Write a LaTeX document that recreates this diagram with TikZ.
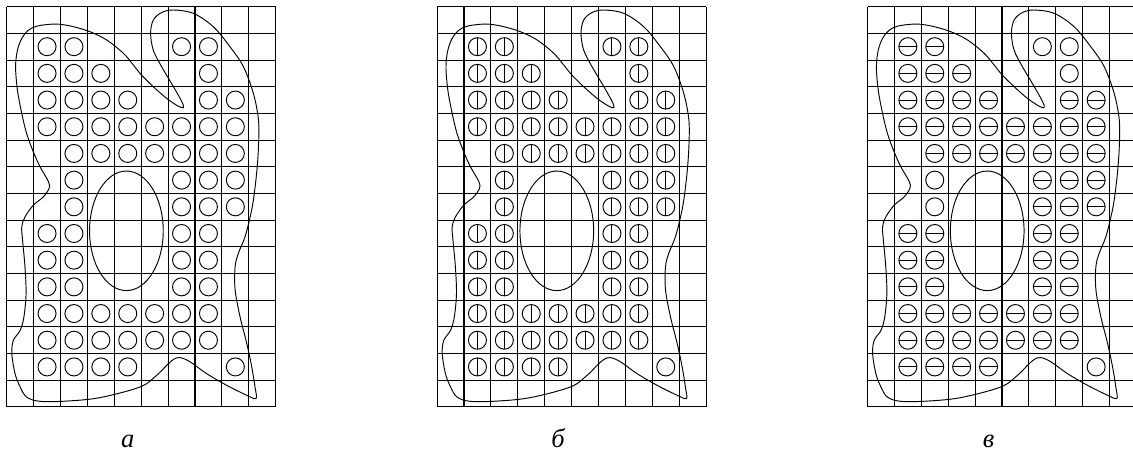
\documentclass[tikz,border=0pt]{standalone}
\usepackage{fontspec}
\setmainfont{Liberation Serif}
\newcommand{\holemark}[1]{%
  \ifnum#1=1 \draw (path picture bounding box.north) -- (path picture bounding box.south);\fi
  \ifnum#1=2 \draw (path picture bounding box.west) -- (path picture bounding box.east);\fi}

\begin{document}
\begin{tikzpicture}[x=0.5cm, y=0.496cm,
    gridline/.style={line width=0.55pt},
    contour/.style={line width=0.5pt},
    hole/.style={circle, draw, line width=0.5pt, minimum size=0.335cm, inner sep=0pt, path picture={\holemark{#1}}},
    letter/.style={anchor=base, font=\fontsize{14}{16}\selectfont\itshape}]
    \useasboundingbox (-0.249,-1.77) rectangle (41.87,15.25);

    \foreach \dx/\ma/\mb/\lbl in {0/0/0/а, 16/1/1/б, 32/2/0/в} {
    \begin{scope}[shift={(\dx,0)}]
        % grid
        \foreach \i in {0,...,10} \draw[gridline] (\i,0) -- (\i,15);
        \foreach \j in {0,...,15} \draw[gridline] (0,\j) -- (10,\j);
        % hole and outline
        \draw[contour] (4.45,6.6) ellipse [x radius=1.37, y radius=2.24];
        \draw[contour] plot[smooth cycle, tension=0.55] coordinates {
            (1.61,14.34) (1.98,14.34) (2.48,14.25) (3.10,14.06) (3.72,13.75) (4.34,13.25)
            (4.71,12.81) (5.0,12.45) (5.45,12.0) (5.95,11.56) (6.38,11.27) (6.57,11.22)
            (6.51,11.44) (6.20,12.0) (5.76,12.75) (5.45,13.37) (5.35,14.0) (5.45,14.5)
            (5.76,14.78) (6.20,14.875) (6.94,14.75) (7.68,14.25) (8.30,13.5) (8.80,12.75)
            (9.17,11.75) (9.36,10.75) (9.36,9.75) (9.29,8.75) (9.17,7.75) (9.05,7.125)
            (8.86,6.375) (8.61,5.75) (8.49,5.25) (8.49,4.4) (8.67,3.4) (8.92,2.4)
            (9.11,1.5) (9.23,0.75) (9.27,0.32) (8.92,0.44) (8.18,0.81) (7.43,1.25)
            (6.82,1.69) (6.44,1.85) (6.20,1.78) (5.95,1.56) (5.58,1.19) (4.96,0.75)
            (3.47,0.35) (2.23,0.22) (1.24,0.21) (0.74,0.37) (0.50,0.75) (0.31,1.25)
            (0.19,2.0) (0.25,2.5) (0.50,2.87) (0.64,3.37) (0.72,4.25) (0.68,5.25)
            (0.59,6.25) (0.56,6.75) (0.68,7.12) (0.99,7.56) (1.36,7.87) (1.58,8.2)
            (1.55,8.45) (1.24,9.0) (0.99,9.56) (0.74,10.25) (0.56,11.0) (0.40,11.87)
            (0.33,12.75) (0.40,13.37) (0.56,13.81) (0.81,14.12) (1.12,14.27)};
        % circles marked in both b and v
        \foreach \r/\cl in {1/{1,2}, 2/{1,2,3}, 3/{1,2,3,4,7,8}, 4/{1,2,3,4,5,6,7,8},
                5/{2,3,4,5,6,7,8}, 6/{6,7,8}, 7/{6,7,8}, 8/{1,2,6,7}, 9/{1,2,6,7},
                10/{1,2,6,7}, 11/{1,2,3,4,5,6,7}, 12/{1,2,3,4,5,6,7}, 13/{1,2,3,4}}
            \foreach \c in \cl
                \node[hole=\ma] (h\dx-\r-\c) at (\c+0.5,14.5-\r) {};
        % circles marked in b only
        \foreach \c/\r in {6/1, 7/1, 7/2, 2/6, 2/7}
            \node[hole=\mb] (h\dx-\r-\c) at (\c+0.5,14.5-\r) {};
        % plain circle
        \node[hole=0] (h\dx-13-8) at (8.5,1.5) {};
        \node[letter] (lbl\dx) at (4.5,-1.51) {\lbl};
    \end{scope}
    }
\end{tikzpicture}
\end{document}
